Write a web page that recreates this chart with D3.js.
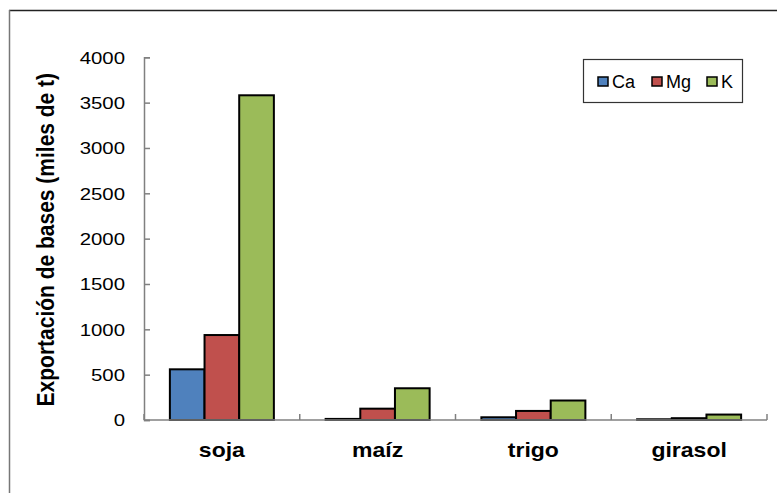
<!DOCTYPE html>
<html><head><meta charset="utf-8">
<script src="https://cdn.jsdelivr.net/npm/d3@7"></script>
<style>html,body{margin:0;padding:0;background:#fff;}svg{display:block;}</style>
</head><body>
<svg id="c" width="777" height="493"></svg>
<script>
const categories = ["soja", "maíz", "trigo", "girasol"];
const seriesNames = ["Ca", "Mg", "K"];
const caValues = [559, 12, 30, 8];
const mgValues = [937, 125, 100, 20];
const kValues = [3581, 350, 215, 60];
const yTicks = [0, 500, 1000, 1500, 2000, 2500, 3000, 3500, 4000];
const colors = ["#4F81BD", "#C0504D", "#9BBB59"];
const yTitle = "Exportación de bases (miles de t)";

const seriesValues = [caValues, mgValues, kValues];
const svg = d3.select("#c");
const font = "'Liberation Sans', Arial, sans-serif";

// outer frame
svg.append("line").attr("x1", 9).attr("x2", 800).attr("y1", 10.5).attr("y2", 10.5).attr("stroke", "#222").attr("stroke-width", 1.5);
svg.append("line").attr("x1", 9.5).attr("x2", 9.5).attr("y1", 10).attr("y2", 500).attr("stroke", "#777").attr("stroke-width", 1.5);

const pLeft = 144, pRight = 767, pTop = 57.3, pBottom = 420;
const x0 = d3.scaleBand().domain(categories).range([pLeft, pRight]).paddingInner(0).paddingOuter(0);
const x1 = d3.scaleBand().domain(seriesNames).range([0, 104]);
const y = d3.scaleLinear().domain([0, 4000]).range([pBottom, pTop]);

const groupOffset = (x0.bandwidth() - 104) / 2;

const data = categories.map((c, i) => ({cat: c, vals: seriesNames.map((s, j) => ({s, v: seriesValues[j][i], j}))}));

const g = svg.append("g");
g.selectAll("g.grp").data(data).join("g").attr("class", "grp")
  .attr("transform", d => `translate(${x0(d.cat) + groupOffset},0)`)
  .selectAll("rect").data(d => d.vals).join("rect")
  .attr("x", d => x1(d.s))
  .attr("width", x1.bandwidth())
  .attr("y", d => y(d.v))
  .attr("height", d => y(0) - y(d.v))
  .attr("fill", d => colors[d.j])
  .attr("stroke", "#000").attr("stroke-width", 2);

// y axis
const yAxis = svg.append("g").attr("transform", `translate(${pLeft},0)`)
  .call(d3.axisLeft(y).tickValues(yTicks).tickSize(-6).tickPadding(0).tickFormat(d3.format("d")));
yAxis.select(".domain").attr("stroke", "#808080").attr("stroke-width", 1.5);
yAxis.selectAll(".tick line").attr("stroke", "#808080").attr("stroke-width", 1.5);
yAxis.selectAll(".tick text").attr("font-family", font).attr("font-size", 17).attr("fill", "#000")
  .attr("text-anchor", "end").attr("dy", "0.35em")
  .attr("transform", "translate(-19,0) scale(1.2,1)").attr("x", 0);

// x axis
const xAxisG = svg.append("g").attr("transform", `translate(0,${pBottom})`);
xAxisG.append("line").attr("x1", pLeft).attr("x2", pRight).attr("stroke", "#808080").attr("stroke-width", 1.5);
xAxisG.selectAll("line.tk").data(categories.map(c => x0(c) + x0.bandwidth()).concat([pLeft])).join("line").attr("class", "tk")
  .attr("x1", d => d).attr("x2", d => d).attr("y1", 0).attr("y2", -6).attr("stroke", "#808080").attr("stroke-width", 1.5);
xAxisG.selectAll("text").data(categories).join("text")
  .attr("transform", d => `translate(${x0(d) + x0.bandwidth() / 2},37) scale(1.15,1)`)
  .attr("text-anchor", "middle").attr("font-family", font).attr("font-size", 20).attr("font-weight", "bold").text(d => d);

// y title
svg.append("text").attr("transform", `translate(54,${(pTop + pBottom) / 2 + 1}) rotate(-90) scale(1,1.15)`)
  .attr("text-anchor", "middle").attr("font-family", font).attr("font-size", 21).attr("font-weight", "bold").text(yTitle);

// legend
const lg = svg.append("g");
lg.append("rect").attr("x", 583.5).attr("y", 59.5).attr("width", 159).attr("height", 43).attr("fill", "#fff").attr("stroke", "#333").attr("stroke-width", 1.2);
const legX = [598, 652, 707];
seriesNames.forEach((s, i) => {
  lg.append("rect").attr("x", legX[i]).attr("y", 77).attr("width", 10).attr("height", 9).attr("fill", colors[i]).attr("stroke", "#000").attr("stroke-width", 1.5);
  lg.append("text").attr("x", legX[i] + 14).attr("y", 88).attr("font-family", font).attr("font-size", 18).text(s);
});
</script>
</body></html>
